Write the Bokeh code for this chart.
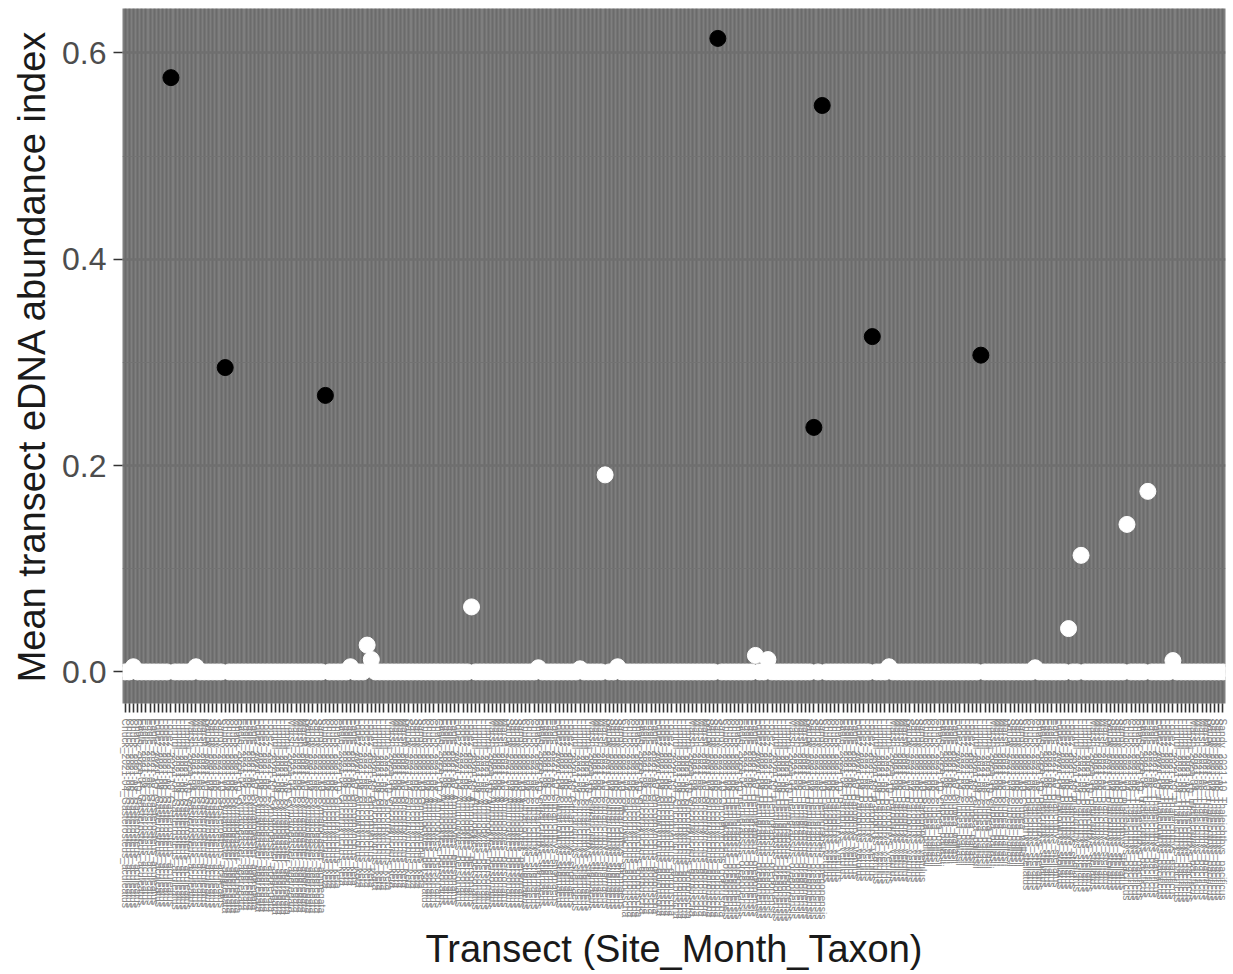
from bokeh.plotting import figure
from bokeh.models import FactorRange, Range1d, FixedTicker, ColumnDataSource
from bokeh.embed import file_html
from bokeh.resources import INLINE

# Transect naming parts: Site_Month_Taxon
taxa = [
    "Gasterosteus_aculeatus",
    "Cymatogaster_aggregata",
    "Oncorhynchus_keta",
    "Ammodytes_personatus",
    "Citharichthys_stigmaeus",
    "Oncorhynchus_gorbuscha",
    "Hemigrapsus_oregonensis",
    "Parophrys_vetulus",
    "Clupea_pallasii",
    "Platichthys_stellatus",
    "Thaleichthys_pacificus",
]
sites = ["Chuck", "Eagle", "Lopez", "Lummi", "Marsh", "Sandy"]
months = ["2021-04", "2021-06", "2021-08", "2021-10"]

transects = [f"{s}_{m}_{t}" for t in taxa for s in sites for m in months]

# Transects with a detection (1-based position along the axis) and their mean index
detected_pos = [12, 25, 49, 143, 166, 168, 180, 206]
detected_val = [0.576, 0.295, 0.268, 0.614, 0.237, 0.549, 0.325, 0.307]

# Non-detected transects with a non-zero mean index
trace_pos = [3, 18, 55, 59, 60, 84, 100, 110, 116, 119, 152, 155, 184, 219,
             227, 230, 241, 246, 252]
trace_val = [0.005, 0.005, 0.005, 0.026, 0.012, 0.063, 0.004, 0.003, 0.191, 0.005,
             0.016, 0.012, 0.005, 0.004, 0.042, 0.113, 0.143, 0.175, 0.011]

mean_index = [0.0] * len(transects)
for pos, v in zip(trace_pos, trace_val):
    mean_index[pos - 1] = v
for pos, v in zip(detected_pos, detected_val):
    mean_index[pos - 1] = v
detected = set(detected_pos)

white_src = ColumnDataSource(dict(
    x=[t for i, t in enumerate(transects, 1) if i not in detected],
    y=[v for i, v in enumerate(mean_index, 1) if i not in detected],
))
black_src = ColumnDataSource(dict(
    x=[transects[i - 1] for i in detected_pos],
    y=[mean_index[i - 1] for i in detected_pos],
))

FONT = "Liberation Sans"

p = figure(
    width=1233, height=974,
    x_range=FactorRange(*transects, range_padding=0.1, range_padding_units="absolute"),
    y_range=Range1d(-0.0306, 0.643),
    output_backend="svg", toolbar_location=None,
    min_border_left=122, min_border_right=8, min_border_top=8, min_border_bottom=271,
)
p.background_fill_color = "#7f7f7f"
p.border_fill_color = "white"
p.outline_line_color = None

# grid
p.xgrid.grid_line_color = "#6b6b6b"
p.xgrid.grid_line_width = 2
p.ygrid.ticker = FixedTicker(ticks=[0.0, 0.2, 0.4, 0.6], minor_ticks=[0.1, 0.3, 0.5])
p.ygrid.grid_line_color = "#6f6f6f"
p.ygrid.grid_line_width = 2.3
p.ygrid.minor_grid_line_color = "#727272"
p.ygrid.minor_grid_line_width = 1.2

# y axis
p.yaxis.ticker = FixedTicker(ticks=[0.0, 0.2, 0.4, 0.6], minor_ticks=[])
p.yaxis.major_label_overrides = {0.0: "0.0", 0.2: "0.2", 0.4: "0.4", 0.6: "0.6"}
p.yaxis.axis_label = "Mean transect eDNA abundance index"

# x axis
p.xaxis.axis_label = "Transect (Site_Month_Taxon)"
p.xaxis.major_label_orientation = "vertical"
p.xaxis.major_label_text_font_size = "10.3px"
p.xaxis.major_label_text_color = "#858585"

for ax in (p.xaxis, p.yaxis):
    ax.axis_line_color = None
    ax.major_tick_line_color = "#333333"
    ax.major_tick_line_width = 1.6
    ax.major_tick_in = 0
    ax.major_tick_out = 9
    ax.minor_tick_line_color = None
    ax.major_label_text_font = FONT
    ax.axis_label_text_font = FONT
    ax.axis_label_text_font_style = "normal"
    ax.axis_label_text_font_size = "38px"
    ax.axis_label_text_color = "#1a1a1a"

p.yaxis.major_label_text_font_size = "32px"
p.yaxis.major_label_text_color = "#4d4d4d"
p.yaxis.major_label_standoff = 7
p.yaxis.axis_label_standoff = 6
p.xaxis.major_label_standoff = 6
p.xaxis.axis_label_standoff = 4

p.scatter("x", "y", source=white_src, size=16, fill_color="white", line_color="white")
p.scatter("x", "y", source=black_src, size=16, fill_color="black", line_color="black")

open("out.html", "w").write(file_html(p, INLINE))
